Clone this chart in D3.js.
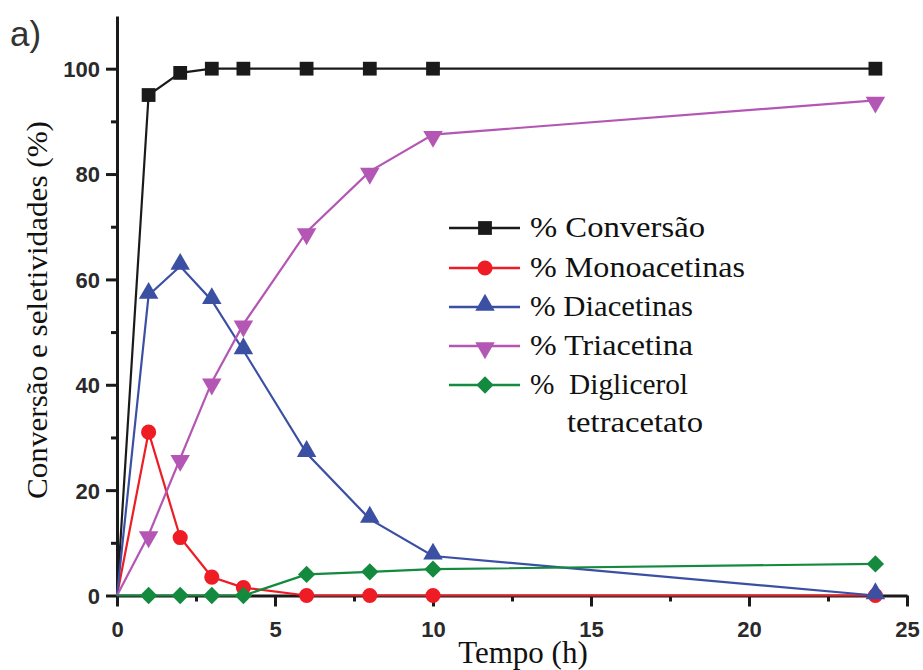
<!DOCTYPE html>
<html>
<head>
<meta charset="utf-8">
<script src="https://cdn.jsdelivr.net/npm/d3@7"></script>
<style>
  body { margin: 0; background: #fff; }
</style>
</head>
<body>
<div id="container"></div>
<script>
// data
const tempo = [0, 1, 2, 3, 4, 6, 8, 10, 24];
const conversao = [0, 95, 99.2, 100, 100, 100, 100, 100, 100];
const monoacetinas = [0, 31, 11, 3.5, 1.5, 0, 0, 0, 0];
const diacetinas = [0, 57, 62.5, 56, 46.5, 27, 14.5, 7.5, 0];
const triacetina = [0, 11.5, 26, 40.5, 51.5, 69, 80.5, 87.5, 94];
const diglicerol = [0, 0, 0, 0, 0, 4, 4.5, 5, 6];

const xTicks = [0, 5, 10, 15, 20, 25];
const yTicks = [0, 20, 40, 60, 80, 100];

const seriesNames = ['% Conversão', '% Monoacetinas', '% Diacetinas', '% Triacetina', '%  Diglicerol'];
const seriesValues = [conversao, monoacetinas, diacetinas, triacetina, diglicerol];
const seriesColors = ['#1a1a1a', '#ee1c25', '#3b4fa3', '#b457b4', '#138a3e'];
const seriesSymbols = [d3.symbolSquare, d3.symbolCircle, d3.symbolTriangle, d3.symbolTriangle, d3.symbolSquare];

const WIDTH = 923;
const HEIGHT = 670;

const svg = d3.select('#container')
  .append('svg')
  .attr('width', WIDTH)
  .attr('height', HEIGHT);

const x = d3.scaleLinear().domain([0, 25]).range([117, 907]);
const y = d3.scaleLinear().domain([0, 110]).range([595.5, 16]);

const axisColor = '#1a1a1a';
const tickFont = 'Liberation Sans, Arial, sans-serif';
const serif = 'Liberation Serif, Times New Roman, serif';

// minor ticks
svg.append('g')
  .attr('transform', `translate(0,${y(0)})`)
  .call(d3.axisBottom(x).tickValues(d3.range(2.5, 25, 5)).tickSize(6).tickFormat(''))
  .call(g => g.select('.domain').remove())
  .call(g => g.selectAll('line').attr('stroke', axisColor).attr('stroke-width', 3));

svg.append('g')
  .attr('transform', `translate(${x(0)},0)`)
  .call(d3.axisLeft(y).tickValues(d3.range(10, 110, 20)).tickSize(6).tickFormat(''))
  .call(g => g.select('.domain').remove())
  .call(g => g.selectAll('line').attr('stroke', axisColor).attr('stroke-width', 3));

// major axes
const xAxis = svg.append('g')
  .attr('transform', `translate(0,${y(0)})`)
  .call(d3.axisBottom(x).tickValues(xTicks).tickSize(11).tickSizeOuter(0));

const yAxis = svg.append('g')
  .attr('transform', `translate(${x(0)},0)`)
  .call(d3.axisLeft(y).tickValues(yTicks).tickSize(11).tickSizeOuter(0).tickPadding(6));

[xAxis, yAxis].forEach(a => {
  a.select('.domain').attr('stroke', axisColor).attr('stroke-width', 3);
  a.selectAll('.tick line').attr('stroke', axisColor).attr('stroke-width', 3);
  a.selectAll('.tick text')
    .style('font-family', tickFont)
    .style('font-weight', 'bold')
    .style('font-size', '22px')
    .attr('fill', '#2a2a2a');
});
xAxis.selectAll('.tick text').attr('y', 41).attr('dy', 0);
yAxis.selectAll('.tick text').attr('dy', '0.36em');

// axis titles
svg.append('text')
  .attr('x', 523)
  .attr('y', 663)
  .attr('text-anchor', 'middle')
  .style('font-family', serif)
  .style('font-size', '31px')
  .style('fill', '#111')
  .text('Tempo (h)');

svg.append('text')
  .attr('transform', 'translate(47,310) rotate(-90)')
  .attr('text-anchor', 'middle')
  .attr('textLength', 378)
  .attr('lengthAdjust', 'spacingAndGlyphs')
  .style('font-family', serif)
  .style('font-size', '30px')
  .style('fill', '#111')
  .text('Conversão e seletividades (%)');

svg.append('text')
  .attr('x', 10)
  .attr('y', 46)
  .style('font-family', tickFont)
  .style('font-size', '35px')
  .style('fill', '#333')
  .text('a)');

// series, later ones drawn on top
const line = d3.line().x(d => x(d[0])).y(d => y(d[1]));

function symbolFor(i) {
  return d3.symbol().type(seriesSymbols[i]).size(symbolSizes[i])();
}
const symbolSizes = [190, 180, 165, 165, 150];
const symbolRotate = [0, 0, 0, 180, 45];
const symbolShift = [0, 0, -2, 2, 0];

seriesValues.forEach((vals, i) => {
  const pts = tempo.map((t, k) => [t, vals[k]]);
  svg.append('path')
    .datum(pts)
    .attr('d', line)
    .attr('fill', 'none')
    .attr('stroke', seriesColors[i])
    .attr('stroke-width', 2.2);

  svg.selectAll(null)
    .data(pts.slice(1))
    .join('path')
    .attr('d', symbolFor(i))
    .attr('transform', d => `translate(${x(d[0])},${y(d[1]) + symbolShift[i]}) rotate(${symbolRotate[i]})`)
    .attr('fill', seriesColors[i]);
});

// legend
const legendX = 449;
const legendRows = [228, 268, 307, 346, 385];
const legendWidths = [175, 215, 163, 163, 158];
seriesNames.forEach((name, i) => {
  const ly = legendRows[i];
  svg.append('line')
    .attr('x1', legendX).attr('x2', legendX + 71)
    .attr('y1', ly).attr('y2', ly)
    .attr('stroke', seriesColors[i])
    .attr('stroke-width', 2.5);
  svg.append('path')
    .attr('d', symbolFor(i))
    .attr('transform', `translate(${legendX + 36},${ly + symbolShift[i]}) rotate(${symbolRotate[i]})`)
    .attr('fill', seriesColors[i]);
  svg.append('text')
    .attr('x', legendX + 81)
    .attr('y', ly + 9)
    .attr('textLength', legendWidths[i])
    .attr('lengthAdjust', 'spacingAndGlyphs')
    .style('font-family', serif)
    .style('font-size', '29px')
    .style('fill', '#111')
    .style('white-space', 'pre')
    .text(name);
});
svg.append('text')
  .attr('x', 567)
  .attr('y', 432)
  .attr('textLength', 136)
  .attr('lengthAdjust', 'spacingAndGlyphs')
  .style('font-family', serif)
  .style('font-size', '29px')
  .style('fill', '#111')
  .text('tetracetato');
</script>
</body>
</html>
